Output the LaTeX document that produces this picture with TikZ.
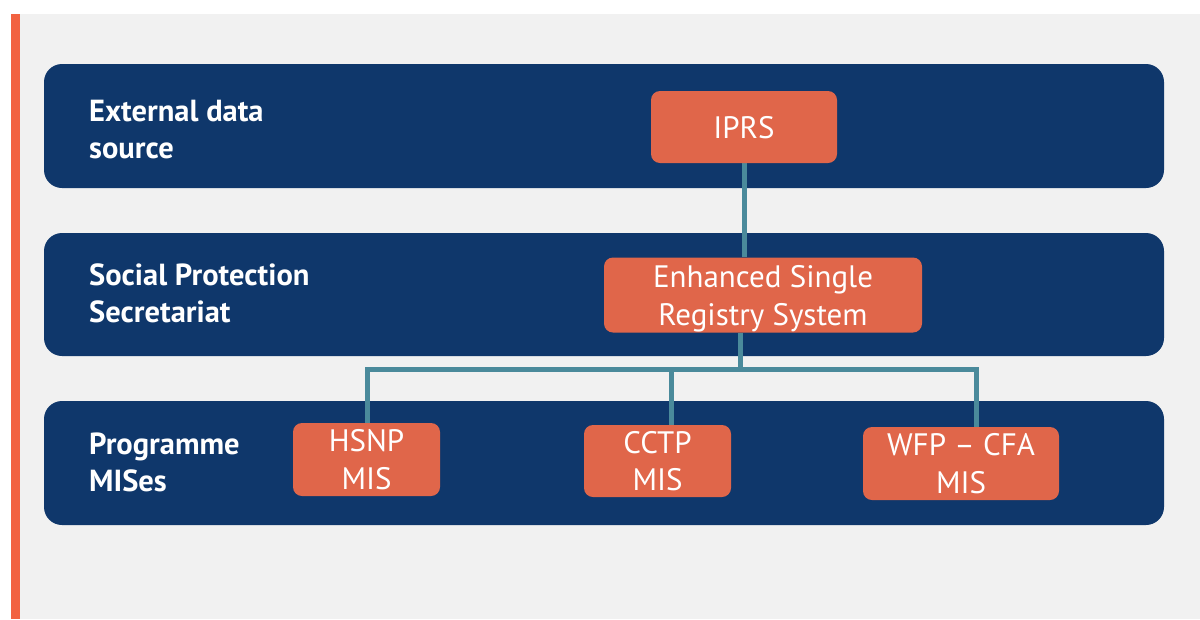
\documentclass[tikz,border=0pt]{standalone}
\usepackage{fontspec}
\setmainfont{PT Sans}
\usetikzlibrary{backgrounds}
\pgfdeclarelayer{mid}
\pgfsetlayers{background,mid,main}
\definecolor{navy}{RGB}{15,55,107}
\definecolor{boxor}{RGB}{224,102,74}
\definecolor{baror}{RGB}{242,98,65}
\definecolor{panel}{RGB}{241,241,241}
\definecolor{teal}{RGB}{74,138,155}
\begin{document}
\begin{tikzpicture}[x=1pt,y=-1pt,
  band/.style={fill=navy,draw=none,rounded corners=18pt},
  sysbox/.style={fill=boxor,draw=none,rounded corners=9pt,text=white,align=center,
     font=\fontsize{31}{37.5}\selectfont,inner sep=0pt},
  bandlabel/.style={anchor=west,text=white,align=left,font=\bfseries\fontsize{30.5}{37}\selectfont,inner sep=0pt},
  link/.style={draw=teal,line width=5pt}]
\useasboundingbox (0,0) rectangle (1200,619);
\begin{pgfonlayer}{background}
\fill[white] (0,0) rectangle (1200,619);
\fill[panel] (20,14) rectangle (1200,619);
\fill[baror] (11,14) rectangle (20,619);
\path[band] (44,64) rectangle (1164,188);
\path[band] (44,233) rectangle (1164,356);
\path[band] (44,401) rectangle (1164,525);
\end{pgfonlayer}
\node[bandlabel] (l1) at (89,130) {External data\\source};
\node[bandlabel] (l2) at (89,293) {Social Protection\\Secretariat};
\node[bandlabel] (l3) at (89,462) {Programme\\MISes};
% boxes
\node[sysbox,minimum width=186pt,minimum height=72pt] (iprs) at (744,127) {\raisebox{-1pt}[\height][\depth]{IPRS}};
\node[sysbox,minimum width=318pt,minimum height=72pt] (esrs) at (763,295) {\raisebox{-4pt}[\height][\depth]{\begin{tabular}{@{}c@{}}Enhanced Single\\Registry System\end{tabular}}};
\node[sysbox,minimum width=147pt,minimum height=73pt] (hsnp) at (366.5,459.5) {HSNP\\MIS};
\node[sysbox,minimum width=147pt,minimum height=72pt] (cctp) at (657.5,461) {CCTP\\MIS};
\node[sysbox,minimum width=196pt,minimum height=73pt] (wfp) at (961,463.5) {WFP -- CFA\\MIS};
% connectors
\coordinate (j) at (740,369);
\coordinate (jh) at (367,369);
\coordinate (jc) at (671,369);
\coordinate (jw) at (976,369);
\begin{pgfonlayer}{mid}
\draw[link] (iprs.south) -- (esrs.north -| iprs.south);
\draw[link] (esrs.south -| j) -- (j);
\draw[link] (hsnp.north -| jh) -- (jh) -- (jw) -- (wfp.north -| jw);
\draw[link] (jc) -- (cctp.north -| jc);
\end{pgfonlayer}
\end{tikzpicture}
\end{document}
